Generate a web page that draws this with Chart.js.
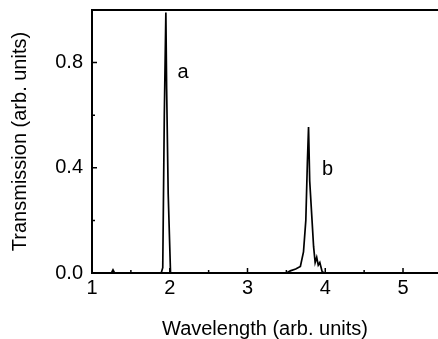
<!DOCTYPE html>
<html><head><meta charset="utf-8">
<script src="https://cdn.jsdelivr.net/npm/chart.js@4/dist/chart.umd.min.js"></script>
<style>html,body{margin:0;padding:0;background:#fff}#w{width:438px;height:339px}</style>
</head><body><div id="w"><canvas id="c"></canvas></div>
<script>
const wavelength = [1.00,1.25,1.27,1.29,1.89,1.91,1.93,1.95,1.96,1.98,2.01,3.50,3.55,3.62,3.68,3.72,3.75,3.77,3.785,3.80,3.83,3.85,3.87,3.89,3.91,3.93,3.96,3.99,5.45];
const transmission = [0,0,0.012,0,0,0.02,0.6,0.99,0.7,0.3,0,0,0.008,0.015,0.025,0.08,0.2,0.42,0.555,0.35,0.2,0.1,0.04,0.06,0.03,0.04,0.005,0,0];
const xTicks = [1,2,3,4,5];
const xMinor = [1.5,2.5,3.5,4.5];
const yTicks = [0,0.4,0.8];
const yMinor = [0.2,0.6];
const peakLabels = ["a","b"];
const peakLabelX = [2.17,4.03];
const peakLabelY = [0.762,0.394];

const pts = wavelength.map((x,i)=>({x, y: transmission[i]}));
const FONT = "'Liberation Sans', Arial, sans-serif";

const decor = {
  id:'decor',
  afterDraw(chart){
    const {ctx, chartArea:a, scales:{x,y}} = chart;
    ctx.save();
    ctx.strokeStyle='#000'; ctx.lineWidth=2;
    ctx.beginPath(); ctx.moveTo(a.left,a.top); ctx.lineTo(a.right,a.top); ctx.stroke();
    ctx.lineWidth=1.5;
    ctx.beginPath();
    xTicks.forEach(v=>{const p=x.getPixelForValue(v); ctx.moveTo(p,a.bottom); ctx.lineTo(p,a.bottom-5);});
    xMinor.forEach(v=>{const p=x.getPixelForValue(v); ctx.moveTo(p,a.bottom); ctx.lineTo(p,a.bottom-3);});
    yTicks.forEach(v=>{const p=y.getPixelForValue(v); ctx.moveTo(a.left,p); ctx.lineTo(a.left+5,p);});
    yMinor.forEach(v=>{const p=y.getPixelForValue(v); ctx.moveTo(a.left,p); ctx.lineTo(a.left+3,p);});
    ctx.stroke();
    ctx.fillStyle='#000'; ctx.font='20px '+FONT; ctx.textAlign='center'; ctx.textBaseline='middle';
    peakLabels.forEach((t,i)=>ctx.fillText(t, x.getPixelForValue(peakLabelX[i]), y.getPixelForValue(peakLabelY[i])));
    ctx.restore();
  }
};

new Chart(document.getElementById('c'), {
  type:'line',
  data:{datasets:[{data:pts, borderColor:'#000', borderWidth:1.7, pointRadius:0, tension:0, fill:false}]},
  options:{
    responsive:true, maintainAspectRatio:false, animation:false,
    layout:{padding:{top:10,right:0,left:0,bottom:0}},
    plugins:{legend:{display:false}, tooltip:{enabled:false}},
    scales:{
      x:{type:'linear', min:1, max:5.45,
        grid:{display:false, drawTicks:false},
        border:{display:true, color:'#000', width:2},
        ticks:{stepSize:1, includeBounds:false, color:'#000', font:{family:FONT,size:20}, padding:3, maxRotation:0,
          callback:v=>String(v)},
        title:{display:true, text:'Wavelength (arb. units)', color:'#000', font:{family:FONT,size:20,lineHeight:1.0}, padding:{top:10,bottom:0}},
        afterFit(s){s.height=66; s.paddingLeft=0; s.paddingRight=0;}
      },
      y:{type:'linear', min:0, max:1.0,
        grid:{display:false, drawTicks:false},
        border:{display:true, color:'#000', width:2},
        ticks:{stepSize:0.4, includeBounds:false, color:'#000', font:{family:FONT,size:20}, padding:9,
          callback:v=>v.toFixed(1)},
        title:{display:true, text:'Transmission (arb. units)', color:'#000', font:{family:FONT,size:20,lineHeight:1.0}, padding:{top:10,bottom:0}},
        afterFit(s){s.width=92; s.paddingTop=0; s.paddingBottom=0;}
      }
    }
  },
  plugins:[decor]
});
</script></body></html>
